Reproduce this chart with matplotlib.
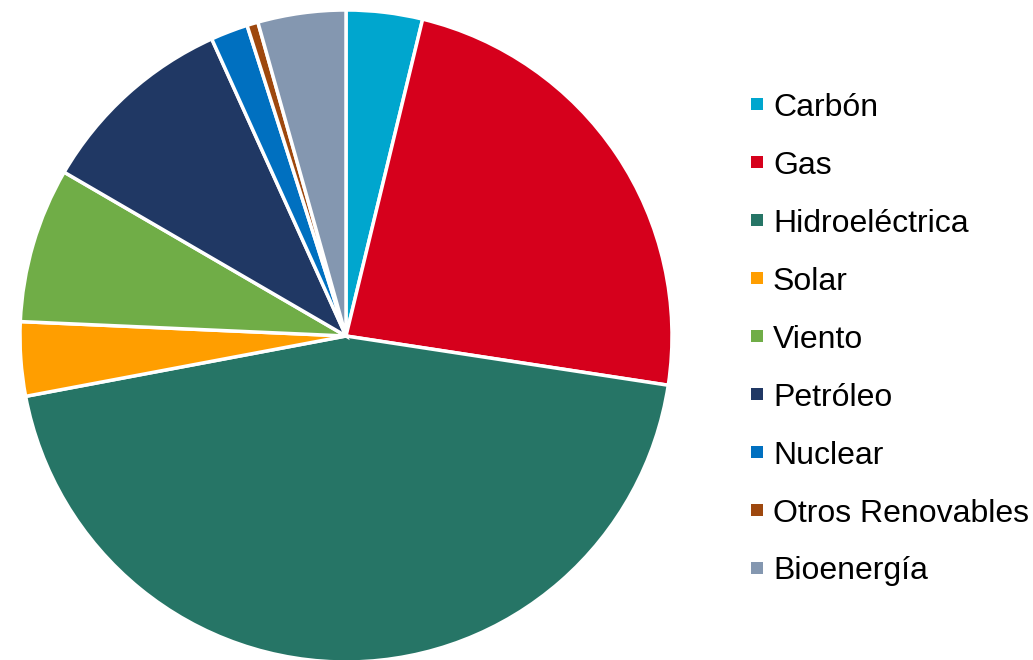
import matplotlib
matplotlib.use("Agg")
import matplotlib.pyplot as plt
from matplotlib.patches import Rectangle

labels = ["Carbón", "Gas", "Hidroeléctrica", "Solar", "Viento", "Petróleo",
          "Nuclear", "Otros Renovables", "Bioenergía"]
values = [3.78, 23.65, 44.65, 3.67, 7.68, 9.87, 1.85, 0.55, 4.36]
colors = ["#00A6CE", "#D6001C", "#267566", "#FF9E00", "#70AD47", "#203864",
          "#0070C0", "#9E480E", "#8497B0"]

W, H = 1033, 660
fig = plt.figure(figsize=(W / 100, H / 100), dpi=100)
ax = fig.add_axes([0, 0, 1, 1])

ax.pie(values, colors=colors, startangle=90, counterclock=False,
       center=(346, H - 336), radius=326, frame=True,
       wedgeprops=dict(edgecolor="white", linewidth=2.5))
ax.set_xlim(0, W)
ax.set_ylim(0, H)
ax.set_aspect("equal")
ax.axis("off")

# legend
y0, dy = 104, 58
for i, (lab, col) in enumerate(zip(labels, colors)):
    yc = H - (y0 + i * dy)
    ax.add_patch(Rectangle((751, yc - 6), 12, 12, facecolor=col, edgecolor="none"))
    ax.text(773, yc, lab, fontsize=23, family="Liberation Sans",
            va="center_baseline", ha="left", color="black")

fig.savefig("out.png", dpi=100)
